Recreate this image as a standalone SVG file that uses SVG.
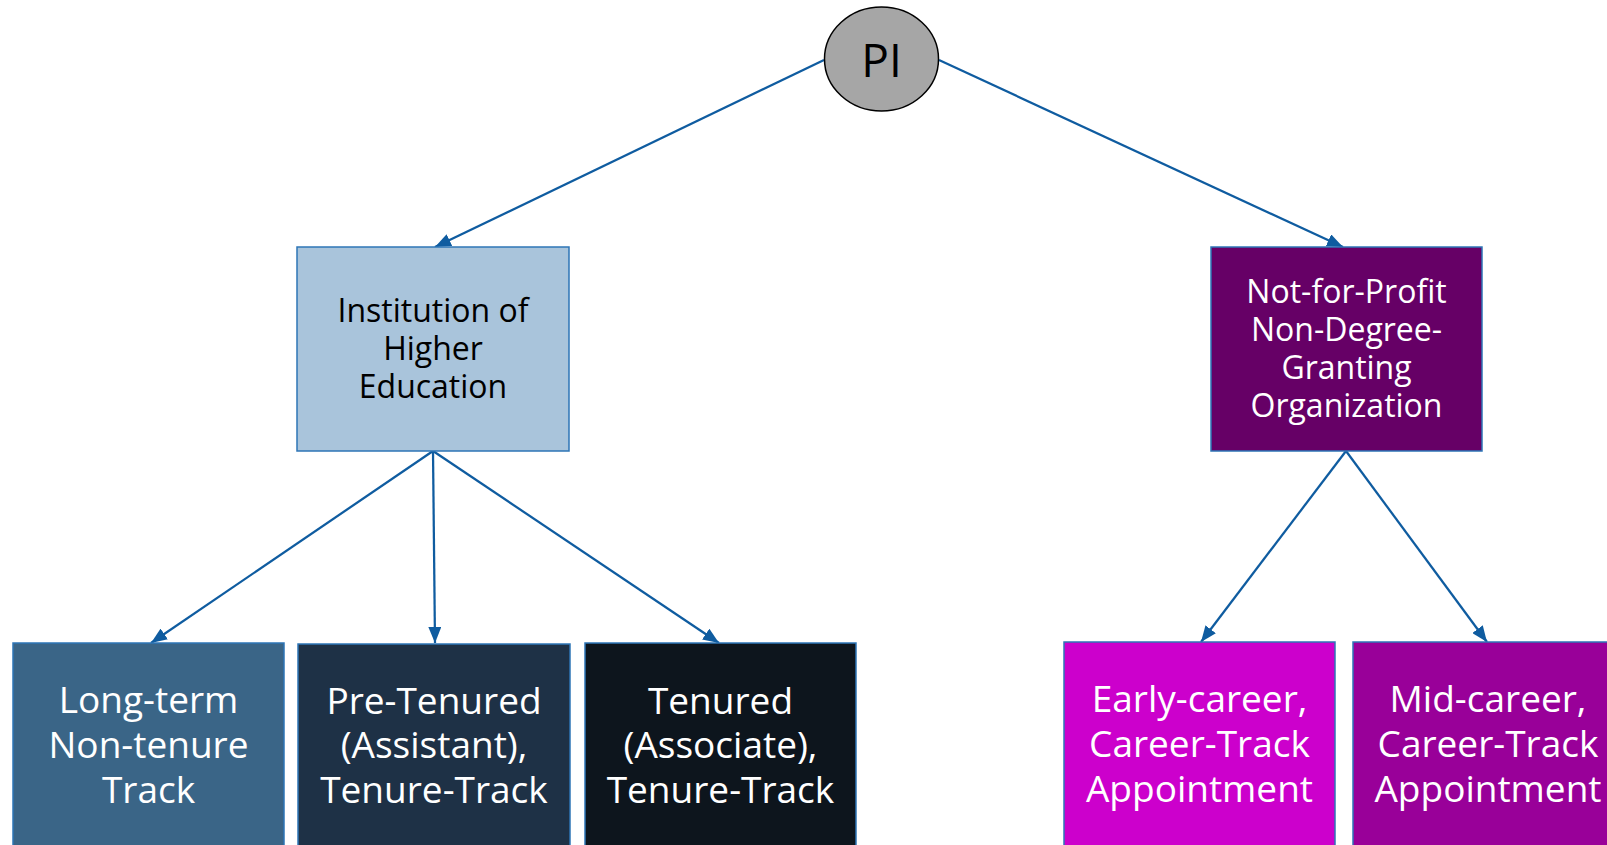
<svg xmlns="http://www.w3.org/2000/svg" width="1607" height="845" viewBox="0 0 1607 845">
<style>
  .box { stroke: #2E75B6; stroke-width: 1.5; }
  .t { font-family: "Open Sans", "Liberation Sans", sans-serif; text-anchor: middle; }
  .mid { font-size: 32px; }
  .low { font-size: 37px; fill: #FFFFFF; }
  .conn { stroke: #0F5CA0; stroke-width: 2.25; fill: none; marker-end: url(#arr); }
</style>
<defs>
  <marker id="arr" markerUnits="userSpaceOnUse" viewBox="0 0 16 13" markerWidth="16" markerHeight="13" refX="16" refY="6.5" orient="auto">
    <path d="M0,0 L16,6.5 L0,13 z" fill="#0F5CA0"/>
  </marker>
</defs>
<rect width="1607" height="845" fill="#FFFFFF"/>
<g id="connectors">
  <line class="conn" x1="824" y1="60" x2="435" y2="247"/>
  <line class="conn" x1="939" y1="60" x2="1343" y2="247"/>
  <line class="conn" x1="433" y1="451" x2="151" y2="643"/>
  <line class="conn" x1="433" y1="451" x2="435" y2="643"/>
  <line class="conn" x1="433" y1="451" x2="719" y2="643"/>
  <line class="conn" x1="1346" y1="451" x2="1201" y2="642"/>
  <line class="conn" x1="1346" y1="451" x2="1487" y2="642"/>
</g>
<g id="pi">
  <ellipse cx="881.5" cy="59" rx="57" ry="52" fill="#A6A6A6" stroke="#000000" stroke-width="1.5"/>
  <text class="t" x="881.5" y="77" font-size="46" fill="#000000">PI</text>
</g>
<g id="institution">
  <rect class="box" x="297" y="247" width="272" height="204" fill="#A9C4DB"/>
  <text class="t mid" fill="#000000"><tspan x="433" y="322">Institution of</tspan><tspan x="433" y="360">Higher</tspan><tspan x="433" y="398">Education</tspan></text>
</g>
<g id="nonprofit">
  <rect class="box" x="1211" y="247" width="271" height="204" fill="#660066"/>
  <text class="t mid" fill="#FFFFFF"><tspan x="1346.5" y="303">Not-for-Profit</tspan><tspan x="1346.5" y="341">Non-Degree-</tspan><tspan x="1346.5" y="379">Granting</tspan><tspan x="1346.5" y="417">Organization</tspan></text>
</g>
<g id="longterm">
  <rect class="box" x="13" y="643" width="271" height="250" fill="#3A6587"/>
  <text class="t low"><tspan x="148.5" y="713">Long-term</tspan><tspan x="148.5" y="758">Non-tenure</tspan><tspan x="148.5" y="803">Track</tspan></text>
</g>
<g id="pretenured">
  <rect class="box" x="298" y="644" width="272" height="250" fill="#1E3146"/>
  <text class="t low"><tspan x="434" y="714">Pre-Tenured</tspan><tspan x="434" y="758">(Assistant),</tspan><tspan x="434" y="803">Tenure-Track</tspan></text>
</g>
<g id="tenured">
  <rect class="box" x="585" y="643" width="271" height="250" fill="#0D151D"/>
  <text class="t low"><tspan x="720.5" y="714">Tenured</tspan><tspan x="720.5" y="758">(Associate),</tspan><tspan x="720.5" y="803">Tenure-Track</tspan></text>
</g>
<g id="earlycareer">
  <rect class="box" x="1064" y="642" width="271" height="250" fill="#CC00CC"/>
  <text class="t low"><tspan x="1199.5" y="712">Early-career,</tspan><tspan x="1199.5" y="757">Career-Track</tspan><tspan x="1199.5" y="802">Appointment</tspan></text>
</g>
<g id="midcareer">
  <rect class="box" x="1353" y="642" width="271" height="250" fill="#990099"/>
  <text class="t low"><tspan x="1488" y="712">Mid-career,</tspan><tspan x="1488" y="757">Career-Track</tspan><tspan x="1488" y="802">Appointment</tspan></text>
</g>
</svg>
